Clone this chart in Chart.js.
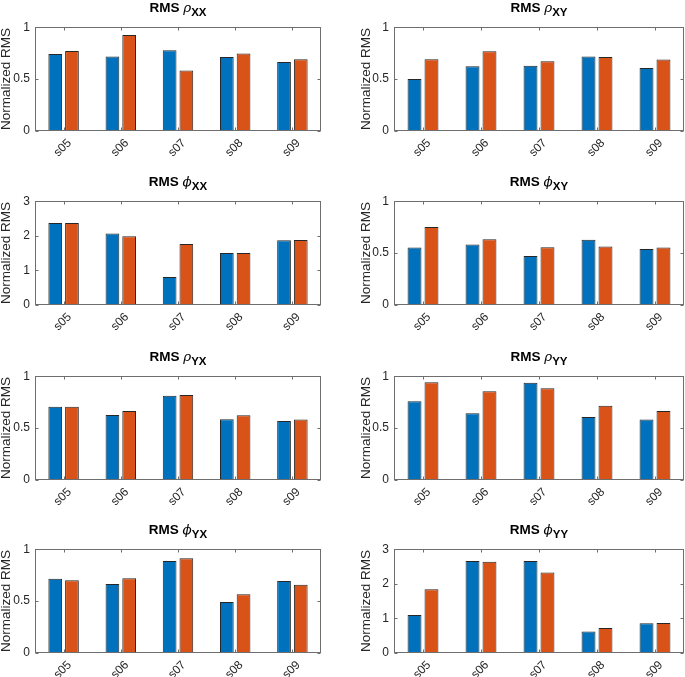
<!DOCTYPE html>
<html>
<head>
<meta charset="utf-8">
<script src="https://cdn.jsdelivr.net/npm/chart.js@4/dist/chart.umd.min.js"></script>
<style>
  body { margin: 0; width: 685px; height: 677px; overflow: hidden; background: #fff; position: relative; }
  canvas { position: absolute; }
  .ttl { position: absolute; text-align: center; font: bold 13.5px 'Liberation Sans', Arial, sans-serif; color: #000; line-height: 15px; white-space: nowrap; }
  .ttl i { font-family: 'DejaVu Serif', serif; font-weight: normal; font-size: 13.5px; }
  .ttl sub { font-size: 11.5px; vertical-align: -4px; line-height: 0; }
</style>
</head>
<body>
<script>
'use strict';
var categories = ['s05', 's06', 's07', 's08', 's09'];

// blue = first series, orange = second series
var rhoXX1 = [0.743, 0.717, 0.778, 0.714, 0.665];
var rhoXX2 = [0.770, 0.924, 0.583, 0.746, 0.691];
var rhoXY1 = [0.500, 0.624, 0.629, 0.718, 0.606];
var rhoXY2 = [0.691, 0.768, 0.671, 0.712, 0.688];
var phiXX1 = [2.37, 2.07, 0.81, 1.50, 1.87];
var phiXX2 = [2.37, 1.99, 1.76, 1.50, 1.88];
var phiXY1 = [0.554, 0.584, 0.472, 0.628, 0.540];
var phiXY2 = [0.751, 0.633, 0.557, 0.563, 0.554];
var rhoYX1 = [0.706, 0.626, 0.812, 0.585, 0.568];
var rhoYX2 = [0.706, 0.665, 0.820, 0.624, 0.582];
var rhoYY1 = [0.759, 0.644, 0.938, 0.606, 0.582];
var rhoYY2 = [0.941, 0.856, 0.885, 0.715, 0.665];
var phiYX1 = [0.716, 0.664, 0.886, 0.491, 0.693];
var phiYX2 = [0.702, 0.719, 0.912, 0.567, 0.658];
var phiYY1 = [1.10, 2.66, 2.66, 0.62, 0.86];
var phiYY2 = [1.84, 2.64, 2.33, 0.72, 0.87];

var yMax1 = 1, yStep1 = 0.5;
var yMax3 = 3, yStep3 = 1;

var panels = [
  { sym: 'ρ', sub: 'XX', a: rhoXX1, b: rhoXX2, max: yMax1, step: yStep1 },
  { sym: 'ρ', sub: 'XY', a: rhoXY1, b: rhoXY2, max: yMax1, step: yStep1 },
  { sym: 'ϕ', sub: 'XX', a: phiXX1, b: phiXX2, max: yMax3, step: yStep3 },
  { sym: 'ϕ', sub: 'XY', a: phiXY1, b: phiXY2, max: yMax1, step: yStep1 },
  { sym: 'ρ', sub: 'YX', a: rhoYX1, b: rhoYX2, max: yMax1, step: yStep1 },
  { sym: 'ρ', sub: 'YY', a: rhoYY1, b: rhoYY2, max: yMax1, step: yStep1 },
  { sym: 'ϕ', sub: 'YX', a: phiYX1, b: phiYX2, max: yMax1, step: yStep1 },
  { sym: 'ϕ', sub: 'YY', a: phiYY1, b: phiYY2, max: yMax3, step: yStep3 }
];

var rowTops = [17, 191, 366, 539];
var plotH = 114;
var font = "'Liberation Sans', Arial, sans-serif";
var txt = '#262626';

// axes box with inward ticks, matlab style
var boxPlugin = {
  id: 'box',
  afterDatasetsDraw: function (chart) {
    var a = chart.chartArea, c = chart.ctx;
    var xs = chart.scales.x, ys = chart.scales.y;
    var l = Math.round(a.left) + 0.5, r = Math.round(a.right) - 0.5;
    var t = Math.round(a.top) + 0.5, b = Math.round(a.bottom) - 0.5;
    c.save();
    c.strokeStyle = '#6e6e6e';
    c.lineWidth = 1;
    c.strokeRect(l, t, r - l, b - t);
    c.beginPath();
    for (var i = 0; i < xs.ticks.length; i++) {
      var px = Math.round(xs.getPixelForTick(i)) + 0.5;
      c.moveTo(px, t); c.lineTo(px, t + 3);
      c.moveTo(px, b); c.lineTo(px, b - 3);
    }
    for (var j = 0; j < ys.ticks.length; j++) {
      var py = Math.round(ys.getPixelForTick(j)) + 0.5;
      c.moveTo(l, py); c.lineTo(l + 3, py);
      c.moveTo(r, py); c.lineTo(r - 3, py);
    }
    c.stroke();
    c.restore();
  }
};

function makePanel(p, idx) {
  var col = idx % 2, row = Math.floor(idx / 2);
  var cvLeft = col === 0 ? -2 : 358;
  var yW = col === 0 ? 37 : 36;
  var cvW = col === 0 ? 342 : 327;
  var padR = col === 0 ? 19 : 1;
  var cvTop = rowTops[row] - 2;

  var cv = document.createElement('canvas');
  cv.width = cvW;
  cv.height = 2 + plotH + 32;
  cv.style.left = cvLeft + 'px';
  cv.style.top = cvTop + 'px';
  document.body.appendChild(cv);

  var areaL = cvLeft + yW, areaR = cvLeft + cvW - padR;
  var ttl = document.createElement('div');
  ttl.className = 'ttl';
  ttl.style.left = areaL + 'px';
  ttl.style.width = (areaR - areaL) + 'px';
  ttl.style.top = (rowTops[row] - 17) + 'px';
  ttl.innerHTML = 'RMS <i>' + p.sym + '</i><sub>' + p.sub + '</sub>';
  document.body.appendChild(ttl);

  new Chart(cv.getContext('2d'), {
    type: 'bar',
    data: {
      labels: categories,
      datasets: [{
        data: p.a,
        backgroundColor: '#0072BD',
        borderColor: '#262626',
        borderWidth: 1,
        barPercentage: 0.82,
        categoryPercentage: 0.585
      }, {
        data: p.b,
        backgroundColor: '#D95319',
        borderColor: '#262626',
        borderWidth: 1,
        barPercentage: 0.82,
        categoryPercentage: 0.585
      }]
    },
    options: {
      responsive: false,
      animation: false,
      layout: { padding: { top: 2, right: padR, left: 0, bottom: 0 } },
      plugins: { legend: { display: false }, tooltip: { enabled: false } },
      scales: {
        x: {
          grid: { display: false },
          border: { display: false },
          ticks: { color: txt, font: { family: font, size: 12 }, minRotation: 45, maxRotation: 45, padding: -3, labelOffset: 6 },
          afterFit: function (s) { s.height = 32; }
        },
        y: {
          min: 0,
          max: p.max,
          grid: { display: false, drawTicks: false },
          border: { display: false },
          ticks: {
            stepSize: p.step, color: txt, font: { family: font, size: 12 }, padding: 5,
            callback: function (v) { return String(+v.toFixed(2)); }
          },
          title: { display: true, text: 'Normalized RMS', color: txt, font: { family: font, size: 13.5 }, padding: 0 },
          afterFit: function (s) { s.width = yW; }
        }
      }
    },
    plugins: [boxPlugin]
  });
}

panels.forEach(makePanel);
</script>
</body>
</html>
